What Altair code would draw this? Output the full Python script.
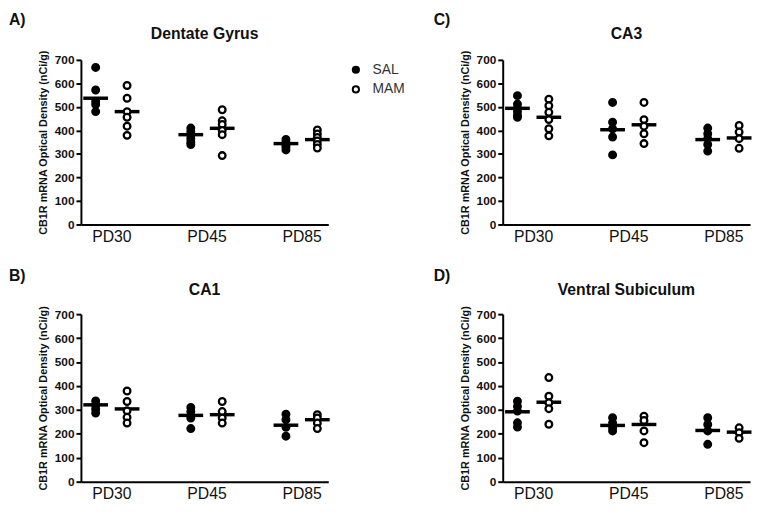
import altair as alt
import pandas as pd

PERIODS = ["PD30", "PD45", "PD85"]
GROUPS = ["SAL", "MAM"]
REGIONS = ["Dentate Gyrus", "CA3", "CA1", "Ventral Subiculum"]
LETTERS = {"Dentate Gyrus": "A)", "CA3": "C)", "CA1": "B)", "Ventral Subiculum": "D)"}
Y_TITLE = "CB1R mRNA Optical Density (nCi/g)"
Y_TICKS = [0, 100, 200, 300, 400, 500, 600, 700]

# individual animals, per period (PD30, PD45, PD85)
DG_SAL = [[668, 572, 523, 510, 480], [410, 395, 380, 365, 350, 340], [362, 350, 340, 330, 317]]
DG_MAM = [[591, 537, 480, 456, 418, 379], [488, 441, 425, 400, 382, 293], [402, 385, 370, 355, 340, 325]]
CA3_SAL = [[548, 512, 495, 480, 465, 456], [519, 435, 407, 372, 296], [410, 386, 365, 340, 312]]
CA3_MAM = [[533, 505, 477, 446, 407, 377], [519, 446, 418, 386, 344], [421, 393, 365, 324]]
CA1_SAL = [[337, 320, 304, 287], [310, 293, 266, 222], [282, 259, 227, 190]]
CA1_MAM = [[379, 335, 296, 269, 245], [335, 293, 266, 245], [280, 266, 245, 222]]
VS_SAL = [[336, 315, 295, 246, 228], [267, 246, 225, 212], [267, 239, 212, 156]]
VS_MAM = [[435, 357, 330, 305, 240], [274, 256, 212, 163], [225, 205, 181]]

# group means (horizontal bars)
DG_MEAN = {"SAL": [537, 382, 344], "MAM": [480, 409, 361]}
CA3_MEAN = {"SAL": [494, 403, 361], "MAM": [456, 424, 368]}
CA1_MEAN = {"SAL": [321, 277, 236], "MAM": [304, 280, 259]}
VS_MEAN = {"SAL": [292, 235, 214], "MAM": [332, 239, 207]}

RAW = {
    "Dentate Gyrus": ({"SAL": DG_SAL, "MAM": DG_MAM}, DG_MEAN),
    "CA3": ({"SAL": CA3_SAL, "MAM": CA3_MAM}, CA3_MEAN),
    "CA1": ({"SAL": CA1_SAL, "MAM": CA1_MAM}, CA1_MEAN),
    "Ventral Subiculum": ({"SAL": VS_SAL, "MAM": VS_MAM}, VS_MEAN),
}

OFFSET = {"SAL": -0.165, "MAM": 0.165}
HALF = 0.13

pts_rows, mean_rows = [], []
for region, (vals, means) in RAW.items():
    for g in GROUPS:
        for i, p in enumerate(PERIODS):
            pos = i + 1 + OFFSET[g]
            for v in vals[g][i]:
                pts_rows.append({"region": region, "period": p, "group": g, "value": v, "pos": pos})
            mean_rows.append({"region": region, "period": p, "group": g, "mean": means[g][i],
                              "x1": pos - HALF, "x2": pos + HALF})
pts = pd.DataFrame(pts_rows)
mns = pd.DataFrame(mean_rows)

FONT = "Liberation Sans"
label_expr = "[''," + ",".join("'%s'" % p for p in PERIODS) + "][datum.value]"

xscale = alt.Scale(domain=[0.68, 3.28], nice=False, zero=False)
yscale = alt.Scale(domain=[0, 700], nice=False)

xax = alt.Axis(values=[1, 2, 3], labelExpr=label_expr, ticks=False, grid=False,
               domainColor="black", domainWidth=2, labelFont=FONT, labelFontSize=16,
               labelColor="#111", labelPadding=4, title=None)
yax = alt.Axis(values=Y_TICKS, grid=False, domainColor="black", domainWidth=2,
               tickColor="black", tickWidth=2, tickSize=5, labelFont=FONT, labelFontSize=12,
               labelFontWeight="bold", labelColor="#111", labelPadding=2, labelOverlap=False,
               titleFont=FONT, titleFontSize=11, titleFontWeight="bold", titleColor="#111",
               titlePadding=6, title=Y_TITLE)


def panel(region, legend, letter_dx, h):
    if legend:
        leg = alt.Legend(title=None, orient="none", legendX=272, legendY=3, symbolType="circle",
                         symbolSize=40, symbolStrokeColor="black", symbolStrokeWidth=2,
                         labelFont=FONT, labelFontSize=14, labelColor="#333", rowPadding=4,
                         labelOffset=10)
    else:
        leg = None
    p = alt.Chart(pts).transform_filter(alt.datum.region == region).mark_circle(
        size=46, stroke="black", strokeWidth=2.3, opacity=1
    ).encode(
        x=alt.X("pos:Q", scale=xscale, axis=xax),
        y=alt.Y("value:Q", scale=yscale, axis=yax),
        fill=alt.Fill("group:N", scale=alt.Scale(domain=GROUPS, range=["black", "white"]), legend=leg),
    )
    m = alt.Chart(mns).transform_filter(alt.datum.region == region).mark_rule(
        color="black", strokeWidth=3.5
    ).encode(
        x=alt.X("x1:Q", scale=xscale, axis=xax),
        x2="x2:Q",
        y=alt.Y("mean:Q", scale=yscale, axis=yax),
    )
    inner = alt.layer(m, p).properties(
        width=251, height=h,
        title=alt.Title(region, font=FONT, fontSize=16, fontWeight="bold", color="#111",
                        anchor="middle", offset=8),
    )
    return alt.vconcat(inner, title=alt.Title(LETTERS[region], font=FONT, fontSize=16,
                                                fontWeight="bold", color="#111", anchor="start",
                                                dx=letter_dx, offset=-2))


top = alt.hconcat(panel("Dentate Gyrus", True, -29, 167), panel("CA3", False, -26, 167), spacing=102)
bottom = alt.hconcat(panel("CA1", False, -29, 170), panel("Ventral Subiculum", False, -26, 170), spacing=102)

chart = alt.vconcat(top, bottom, spacing=24).resolve_scale(fill="independent").resolve_legend(
    fill="independent"
).properties(padding={"left": 0, "top": 0, "right": 0, "bottom": 0}).configure_view(stroke=None)

chart.save("out.html", embed_options={"renderer": "svg", "actions": False})
